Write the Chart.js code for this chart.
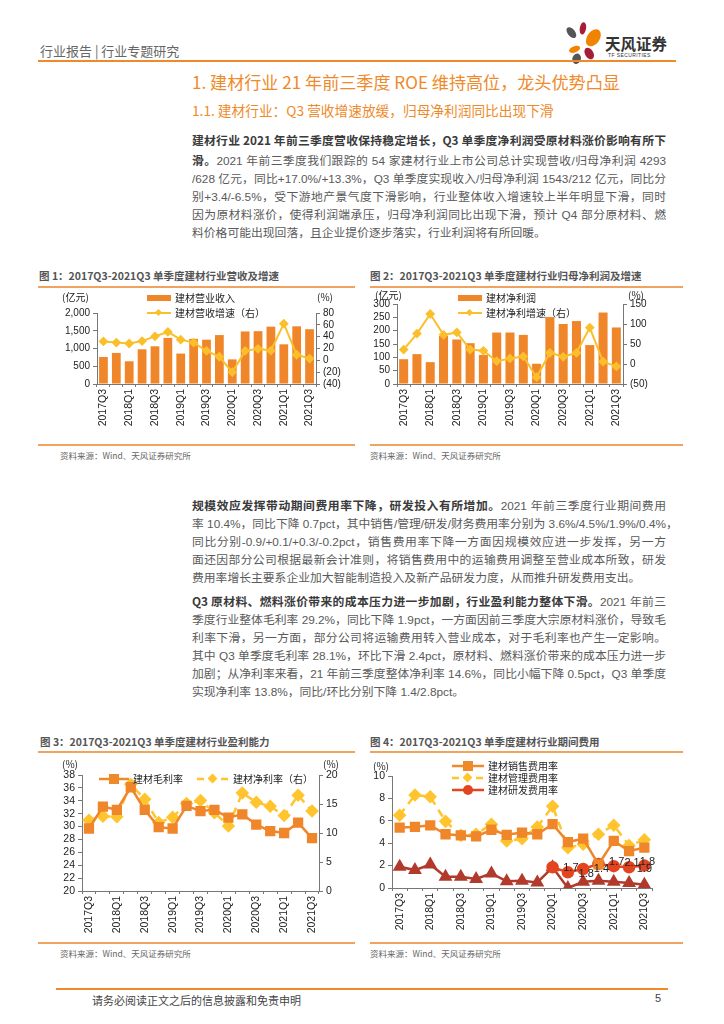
<!DOCTYPE html>
<html>
<head>
<meta charset="utf-8">
<script src="https://cdn.jsdelivr.net/npm/chart.js@4.4.0/dist/chart.umd.min.js"></script>
<style>
  body { margin: 0; width: 724px; height: 1024px; background: #fff; position: relative; overflow: hidden;
         font-family: "Liberation Sans", "Noto Sans CJK SC", sans-serif; color: #555; }
  .abs { position: absolute; white-space: nowrap; }
  .rule { position: absolute; height: 0; border-top: 2px solid #F0A35E; }
  .para { position: absolute; left: 192px; width: 474px; font-size: 11.8px; line-height: 17.9px; color: #5a5a5a; }
  .ln { white-space: nowrap; text-align: justify; text-align-last: justify; }
  .ln.end { text-align-last: left; }
  .para b { color: #3a3a3a; font-family: "Noto Sans CJK SC", sans-serif; font-weight: 700; }
  .ftitle { position: absolute; font-size: 10.5px; font-weight: 700; color: #555; font-family: "Noto Sans CJK SC", sans-serif; white-space: nowrap; }
  .src { position: absolute; font-size: 8.5px; color: #666; font-family: "Noto Sans CJK SC", sans-serif; }
  .leg { position: absolute; font-size: 10px; color: #222; font-family: "Noto Sans CJK SC", sans-serif; line-height: 12px; }
  .leg div { height: 15px; display: flex; align-items: center; }
  .leg svg { margin-right: 4px; }
  .unit { position: absolute; font-size: 10px; color: #222; font-family: "Noto Sans CJK SC", sans-serif; }
  canvas { position: absolute; }
</style>
</head>
<body>

<!-- header -->
<div class="abs" style="left:40px; top:41px; font-size:13px; color:#666; font-family:'Noto Sans CJK SC';">行业报告 | 行业专题研究</div>
<svg class="abs" style="left:563px; top:20px;" width="44" height="44" viewBox="0 0 42 42">
  <ellipse cx="8" cy="12" rx="3.5" ry="6" fill="#555" transform="rotate(-40 8 12)"/>
  <ellipse cx="19" cy="8" rx="3" ry="6" fill="#A51D37" transform="rotate(10 19 8)"/>
  <ellipse cx="29" cy="17" rx="6" ry="9" fill="#F08300" transform="rotate(35 29 17)"/>
  <ellipse cx="11" cy="28" rx="3" ry="5.5" fill="#F08300" transform="rotate(70 11 28)"/>
  <ellipse cx="25" cy="32" rx="4" ry="6" fill="#A51D37" transform="rotate(-30 25 32)"/>
  <ellipse cx="13" cy="37" rx="4" ry="5" fill="#555" transform="rotate(20 13 37)"/>
</svg>
<div class="abs" style="left:605px; top:32px; font-size:15.5px; font-weight:700; color:#333; font-family:'Noto Sans CJK SC';">天风证券</div>
<div class="abs" style="left:608px; top:52px; font-size:5px; color:#333; letter-spacing:0.4px;">TF SECURITIES</div>
<div class="rule" style="left:38px; width:638px; top:60px; border-top-color:#EF8A2A;"></div>

<div class="abs" style="left:192px; top:69px; font-size:17.1px; color:#EF8A2A; font-family:'Noto Sans CJK SC';">1. 建材行业 21 年前三季度 ROE 维持高位，龙头优势凸显</div>
<div class="abs" style="left:192px; top:100px; font-size:13.7px; color:#EF8A2A; font-family:'Noto Sans CJK SC';">1.1. 建材行业：Q3 营收增速放缓，归母净利润同比出现下滑</div>

<div class="para" style="top:131px;">
  <div class="ln"><b>建材行业 2021 年前三季度营收保持稳定增长，Q3 单季度净利润受原材料涨价影响有所下</b></div>
  <div class="ln"><b>滑。</b>2021 年前三季度我们跟踪的 54 家建材行业上市公司总计实现营收/归母净利润 4293</div>
  <div class="ln">/628 亿元，同比+17.0%/+13.3%，Q3 单季度实现收入/归母净利润 1543/212 亿元，同比分</div>
  <div class="ln">别+3.4/-6.5%，受下游地产景气度下滑影响，行业整体收入增速较上半年明显下滑，同时</div>
  <div class="ln">因为原材料涨价，使得利润端承压，归母净利润同比出现下滑，预计 Q4 部分原材料、燃</div>
  <div class="ln end">料价格可能出现回落，且企业提价逐步落实，行业利润将有所回暖。</div>
</div>

<!-- figure 1 / 2 -->
<div class="ftitle" style="left:39px; top:268px;">图 1：2017Q3-2021Q3 单季度建材行业营收及增速</div>
<div class="rule" style="left:38px; width:317px; top:286px;"></div>
<div class="ftitle" style="left:370px; top:268px;">图 2：2017Q3-2021Q3 单季度建材行业归母净利润及增速</div>
<div class="rule" style="left:370px; width:313px; top:286px;"></div>

<canvas id="c1" width="315" height="152" style="left:40px; top:290px;"></canvas>
<canvas id="c2" width="300" height="152" style="left:363px; top:290px;"></canvas>
<div class="unit" style="left:62px; top:289px;">(亿元)</div>
<div class="unit" style="left:317px; top:289px;">(%)</div>
<div class="unit" style="left:375px; top:287px;">(亿元)</div>
<div class="unit" style="left:628px; top:287px;">(%)</div>
<div class="leg" style="left:147px; top:290px;">
  <div><svg width="24" height="8"><rect x="0" y="1" width="24" height="6" fill="#F0862A"/></svg>建材营业收入</div>
  <div><svg width="24" height="8"><line x1="0" y1="4" x2="24" y2="4" stroke="#FBBF2C" stroke-width="2"/><rect x="9" y="1" width="5" height="5" fill="#FBBF2C" transform="rotate(45 11.5 3.5)"/></svg>建材营收增速（右）</div>
</div>
<div class="leg" style="left:458px; top:290px;">
  <div><svg width="24" height="8"><rect x="0" y="1" width="24" height="6" fill="#F0862A"/></svg>建材净利润</div>
  <div><svg width="24" height="8"><line x1="0" y1="4" x2="24" y2="4" stroke="#FBBF2C" stroke-width="2"/><rect x="9" y="1" width="5" height="5" fill="#FBBF2C" transform="rotate(45 11.5 3.5)"/></svg>建材净利增速（右）</div>
</div>
<div class="rule" style="left:38px; width:317px; top:444px;"></div>
<div class="rule" style="left:370px; width:313px; top:444px;"></div>
<div class="src" style="left:60px; top:449px;">资料来源：Wind、天风证券研究所</div>
<div class="src" style="left:370px; top:449px;">资料来源：Wind、天风证券研究所</div>

<div class="para" style="top:496px;">
  <div class="ln"><b>规模效应发挥带动期间费用率下降，研发投入有所增加。</b>2021 年前三季度行业期间费用</div>
  <div class="ln">率 10.4%，同比下降 0.7pct，其中销售/管理/研发/财务费用率分别为 3.6%/4.5%/1.9%/0.4%，</div>
  <div class="ln">同比分别-0.9/+0.1/+0.3/-0.2pct，销售费用率下降一方面因规模效应进一步发挥，另一方</div>
  <div class="ln">面还因部分公司根据最新会计准则，将销售费用中的运输费用调整至营业成本所致，研发</div>
  <div class="ln end">费用率增长主要系企业加大智能制造投入及新产品研发力度，从而推升研发费用支出。</div>
</div>
<div class="para" style="top:592px;">
  <div class="ln"><b>Q3 原材料、燃料涨价带来的成本压力进一步加剧，行业盈利能力整体下滑。</b>2021 年前三</div>
  <div class="ln">季度行业整体毛利率 29.2%，同比下降 1.9pct，一方面因前三季度大宗原材料涨价，导致毛</div>
  <div class="ln">利率下滑，另一方面，部分公司将运输费用转入营业成本，对于毛利率也产生一定影响。</div>
  <div class="ln">其中 Q3 单季度毛利率 28.1%，环比下滑 2.4pct，原材料、燃料涨价带来的成本压力进一步</div>
  <div class="ln">加剧；从净利率来看，21 年前三季度整体净利率 14.6%，同比小幅下降 0.5pct，Q3 单季度</div>
  <div class="ln end">实现净利率 13.8%，同比/环比分别下降 1.4/2.8pct。</div>
</div>

<!-- figure 3 / 4 -->
<div class="ftitle" style="left:40px; top:734px;">图 3：2017Q3-2021Q3 单季度建材行业盈利能力</div>
<div class="rule" style="left:38px; width:317px; top:751px;"></div>
<div class="ftitle" style="left:370px; top:734px;">图 4：2017Q3-2021Q3 单季度建材行业期间费用</div>
<div class="rule" style="left:370px; width:313px; top:751px;"></div>

<canvas id="c3" width="310" height="182" style="left:40px; top:755px;"></canvas>
<canvas id="c4" width="297" height="182" style="left:363px; top:755px;"></canvas>
<div class="unit" style="left:62px; top:756px;">(%)</div>
<div class="unit" style="left:323px; top:756px;">(%)</div>
<div class="unit" style="left:373px; top:758px;">(%)</div>
<div class="leg" style="left:99px; top:771px;">
  <div><svg width="30" height="12"><line x1="0" y1="6" x2="30" y2="6" stroke="#EF8A2A" stroke-width="2.5"/><rect x="10" y="1" width="10" height="10" fill="#EF8A2A"/></svg><span style="margin-right:14px">建材毛利率</span><svg width="32" height="12"><line x1="0" y1="6" x2="32" y2="6" stroke="#FFC42E" stroke-width="2.5" stroke-dasharray="7 5"/><rect x="12" y="2" width="7" height="7" fill="#FFC42E" transform="rotate(45 15.5 5.5)"/></svg>建材净利率（右）</div>
</div>
<div class="leg" style="left:452px; top:760px;">
  <div style="height:12px"><svg width="32" height="12"><line x1="0" y1="6" x2="32" y2="6" stroke="#EF8A2A" stroke-width="2.5"/><rect x="11" y="1" width="10" height="10" fill="#EF8A2A"/></svg>建材销售费用率</div>
  <div style="height:12px"><svg width="32" height="12"><line x1="0" y1="6" x2="32" y2="6" stroke="#FFC42E" stroke-width="2.5" stroke-dasharray="7 5"/><rect x="12" y="2" width="7" height="7" fill="#FFC42E" transform="rotate(45 15.5 5.5)"/></svg>建材管理费用率</div>
  <div style="height:12px"><svg width="32" height="12"><line x1="0" y1="6" x2="32" y2="6" stroke="#E2451F" stroke-width="2.5"/><circle cx="16" cy="6" r="5" fill="#E2451F"/></svg>建材研发费用率</div>
</div>
<div class="rule" style="left:38px; width:317px; top:942px;"></div>
<div class="rule" style="left:370px; width:313px; top:942px;"></div>
<div class="src" style="left:60px; top:947px;">资料来源：Wind、天风证券研究所</div>
<div class="src" style="left:370px; top:947px;">资料来源：Wind、天风证券研究所</div>

<!-- footer -->
<div class="rule" style="left:56px; width:612px; top:988px; border-top-color:#EF8A2A;"></div>
<div class="abs" style="left:92px; top:992px; font-size:11px; color:#444; font-family:'Noto Sans CJK SC';">请务必阅读正文之后的信息披露和免责申明</div>
<div class="abs" style="left:655px; top:992px; font-size:11px; color:#444;">5</div>

<script>
// quarters 2017Q3 .. 2021Q3
const quarters = ['2017Q3','2017Q4','2018Q1','2018Q2','2018Q3','2018Q4','2019Q1','2019Q2','2019Q3',
                  '2019Q4','2020Q1','2020Q2','2020Q3','2020Q4','2021Q1','2021Q2','2021Q3']

// fig 1: revenue (亿元) and yoy growth (%)
const revenue = [760, 875, 640, 978, 1062, 1300, 858, 1272, 1248, 1378, 693, 1480, 1488, 1615, 1118, 1625, 1543]
const revenueGrowth = [32, 30, 28.5, 32.5, 40.5, 48, 35, 30, 16, 6, -20, 16, 19.5, 16.5, 62, 9.5, 3]

// fig 2: net profit attributable (亿元) and yoy growth (%)
const profit = [93, 112, 82, 180, 167, 153, 109, 193, 193, 184, 76, 251, 225, 236, 146, 268, 212]
const profitGrowth = [36, 76, 125, 73, 79, 36, 33, 7, 14, 19, -33, 28, 18, 28, 91, 6, -6]

// fig 3: gross margin (left) / net margin (right), %
const grossMargin = [29.7, 33.1, 32.6, 36.1, 32.6, 29.9, 29.7, 33.2, 32.4, 32.6, 31.4, 31.9, 30.3, 29.3, 29.0, 30.6, 28.2]
const netMargin = [12.2, 12.9, 12.8, 18.4, 15.8, 11.8, 12.7, 15.1, 15.6, 13.5, 11.2, 16.9, 15.3, 14.6, 13.0, 16.5, 13.8]

// fig 4: expense ratios, %
const salesRate = [5.4, 5.45, 5.6, 4.8, 4.7, 4.6, 5.2, 4.75, 4.95, 4.8, 5.7, 4.1, 4.4, 2.1, 4.2, 3.3, 3.6]
const mgmtRate = [6.5, 8.3, 8.15, 5.95, 4.7, 4.8, 5.7, 4.2, 4.4, 5.45, 7.3, 3.6, 3.9, 4.8, 5.6, 3.8, 4.3]
const rdRate = [null, null, null, null, null, null, null, null, null, null, 1.85, 1.4, 1.7, 2.15, 1.95, 1.85, 2.0]
const finRate = [1.9, 1.6, 2.1, 1.0, 1.0, 0.8, 1.3, 0.6, 0.65, 0.5, 1.85, 0.0, 0.55, 0.65, 0.55, 0.45, 0.3]
const rdLabels = [null, null, null, null, null, null, null, null, null, null, null, '1.7', '1.8', '1.4', '1.7', '2.1', '1.8']

Chart.defaults.font.family = '"Liberation Sans", Arial, "Noto Sans CJK SC", sans-serif'
Chart.defaults.font.size = 10
Chart.defaults.color = '#222'
Chart.defaults.animation = false

const ORANGE = '#F0862A'
const GOLD = '#FBBF2C'
const AXIS = '#777'

const paren = v => v < 0 ? '(' + Math.abs(v) + ')' : String(v)

// every other quarter gets a label
function xAxis(height, fontSize) {
    return {
        offset: true,
        grid: { display: true, drawOnChartArea: false, offset: true, tickLength: 3, color: AXIS },
        border: { color: AXIS },
        ticks: {
            autoSkip: false, maxRotation: 90, minRotation: 90, padding: 2,
            font: { size: fontSize },
            callback: function (val, i) { return i % 2 === 0 ? this.getLabelForValue(val) : '' }
        },
        afterFit: s => { s.height = height }
    }
}

function yAxis(pos, width, min, max, step, fmt, fontSize) {
    return {
        position: pos, min: min, max: max,
        grid: { display: true, drawOnChartArea: false, tickLength: 4, color: AXIS },
        border: { color: AXIS },
        ticks: { stepSize: step, autoSkip: false, padding: 3, callback: fmt, font: { size: fontSize } },
        afterFit: s => { s.width = width }
    }
}

const noLegend = { legend: { display: false }, tooltip: { enabled: false } }

// fig 1
new Chart(document.getElementById('c1'), {
    type: 'bar',
    data: {
        labels: quarters,
        datasets: [
            { type: 'line', label: '建材营收增速（右）', data: revenueGrowth, yAxisID: 'y1', order: 0,
              borderColor: GOLD, backgroundColor: GOLD, borderWidth: 2, pointStyle: 'rectRot', pointRadius: 3.5 },
            { label: '建材营业收入', data: revenue, yAxisID: 'y', order: 1,
              backgroundColor: ORANGE, barPercentage: 0.68, categoryPercentage: 1 }
        ]
    },
    options: {
        responsive: false,
        layout: { padding: { top: 23, left: 0, right: 0, bottom: 0 } },
        plugins: noLegend,
        scales: {
            x: xAxis(58, 10.5),
            y: yAxis('left', 57, 0, 2000, 500, v => v.toLocaleString('en-US'), 10),
            y1: yAxis('right', 39, -40, 80, 20, paren, 10)
        }
    }
})

// fig 2
new Chart(document.getElementById('c2'), {
    type: 'bar',
    data: {
        labels: quarters,
        datasets: [
            { type: 'line', label: '建材净利增速（右）', data: profitGrowth, yAxisID: 'y1', order: 0,
              borderColor: GOLD, backgroundColor: GOLD, borderWidth: 2, pointStyle: 'rectRot', pointRadius: 3.5 },
            { label: '建材净利润', data: profit, yAxisID: 'y', order: 1,
              backgroundColor: ORANGE, barPercentage: 0.68, categoryPercentage: 1 }
        ]
    },
    options: {
        responsive: false,
        layout: { padding: { top: 14, left: 0, right: 0, bottom: 0 } },
        plugins: noLegend,
        scales: {
            x: xAxis(58, 10.5),
            y: yAxis('left', 34, 0, 300, 50, v => v, 10),
            y1: yAxis('right', 40, -50, 150, 50, paren, 10)
        }
    }
})

// fig 3
new Chart(document.getElementById('c3'), {
    type: 'line',
    data: {
        labels: quarters,
        datasets: [
            { label: '建材毛利率', data: grossMargin, yAxisID: 'y',
              borderColor: ORANGE, backgroundColor: ORANGE, borderWidth: 2.5, pointStyle: 'rect', pointRadius: 5.5 },
            { label: '建材净利率（右）', data: netMargin, yAxisID: 'y1',
              borderColor: '#FFC42E', backgroundColor: '#FFC42E', borderWidth: 2.5, borderDash: [8, 6],
              pointStyle: 'rectRot', pointRadius: 5 }
        ]
    },
    options: {
        responsive: false,
        layout: { padding: { top: 20, left: 0, right: 0, bottom: 0 } },
        plugins: noLegend,
        scales: {
            x: xAxis(46, 10.5),
            y: yAxis('left', 42, 20, 38, 2, v => v, 10.5),
            y1: yAxis('right', 31, 0, 20, 5, v => v, 10.5)
        }
    }
})

// data labels for the R&D series
const rdLabelPlugin = {
    id: 'rdLabels',
    afterDatasetsDraw(chart) {
        const meta = chart.getDatasetMeta(2)
        const ctx = chart.ctx
        ctx.save()
        ctx.font = '11px "Liberation Sans", Arial'
        ctx.fillStyle = '#222'
        ctx.textAlign = 'center'
        ctx.textBaseline = 'middle'
        rdLabels.forEach((t, i) => {
            if (!t) return
            const p = meta.data[i]
            const dy = (i === 12 || i === 13) ? 5 : -4
            ctx.fillText(t, p.x + 3, p.y + dy)
        })
        // overlapping second label on the last point
        const last = meta.data[rdLabels.length - 1]
        ctx.fillText('1.9', last.x, last.y + 3)
        ctx.restore()
    }
}

// fig 4
new Chart(document.getElementById('c4'), {
    type: 'line',
    data: {
        labels: quarters,
        datasets: [
            { label: '建材销售费用率', data: salesRate,
              borderColor: ORANGE, backgroundColor: ORANGE, borderWidth: 2.5, pointStyle: 'rect', pointRadius: 5.5 },
            { label: '建材管理费用率', data: mgmtRate,
              borderColor: '#FFC42E', backgroundColor: '#FFC42E', borderWidth: 2.5, borderDash: [8, 6],
              pointStyle: 'rectRot', pointRadius: 5 },
            { label: '建材研发费用率', data: rdRate,
              borderColor: '#E2451F', backgroundColor: '#E2451F', borderWidth: 2.5, pointStyle: 'circle', pointRadius: 5 },
            { label: '建材财务费用率', data: finRate,
              borderColor: '#B23A2C', backgroundColor: '#B23A2C', borderWidth: 2.5, pointStyle: 'triangle', pointRadius: 5.5 }
        ]
    },
    options: {
        responsive: false,
        layout: { padding: { top: 21, left: 0, right: 8, bottom: 0 } },
        plugins: noLegend,
        scales: {
            x: xAxis(49, 10.5),
            y: yAxis('left', 29, 0, 10, 2, v => v, 10.5)
        }
    },
    plugins: [rdLabelPlugin]
})
</script>
</body>
</html>
